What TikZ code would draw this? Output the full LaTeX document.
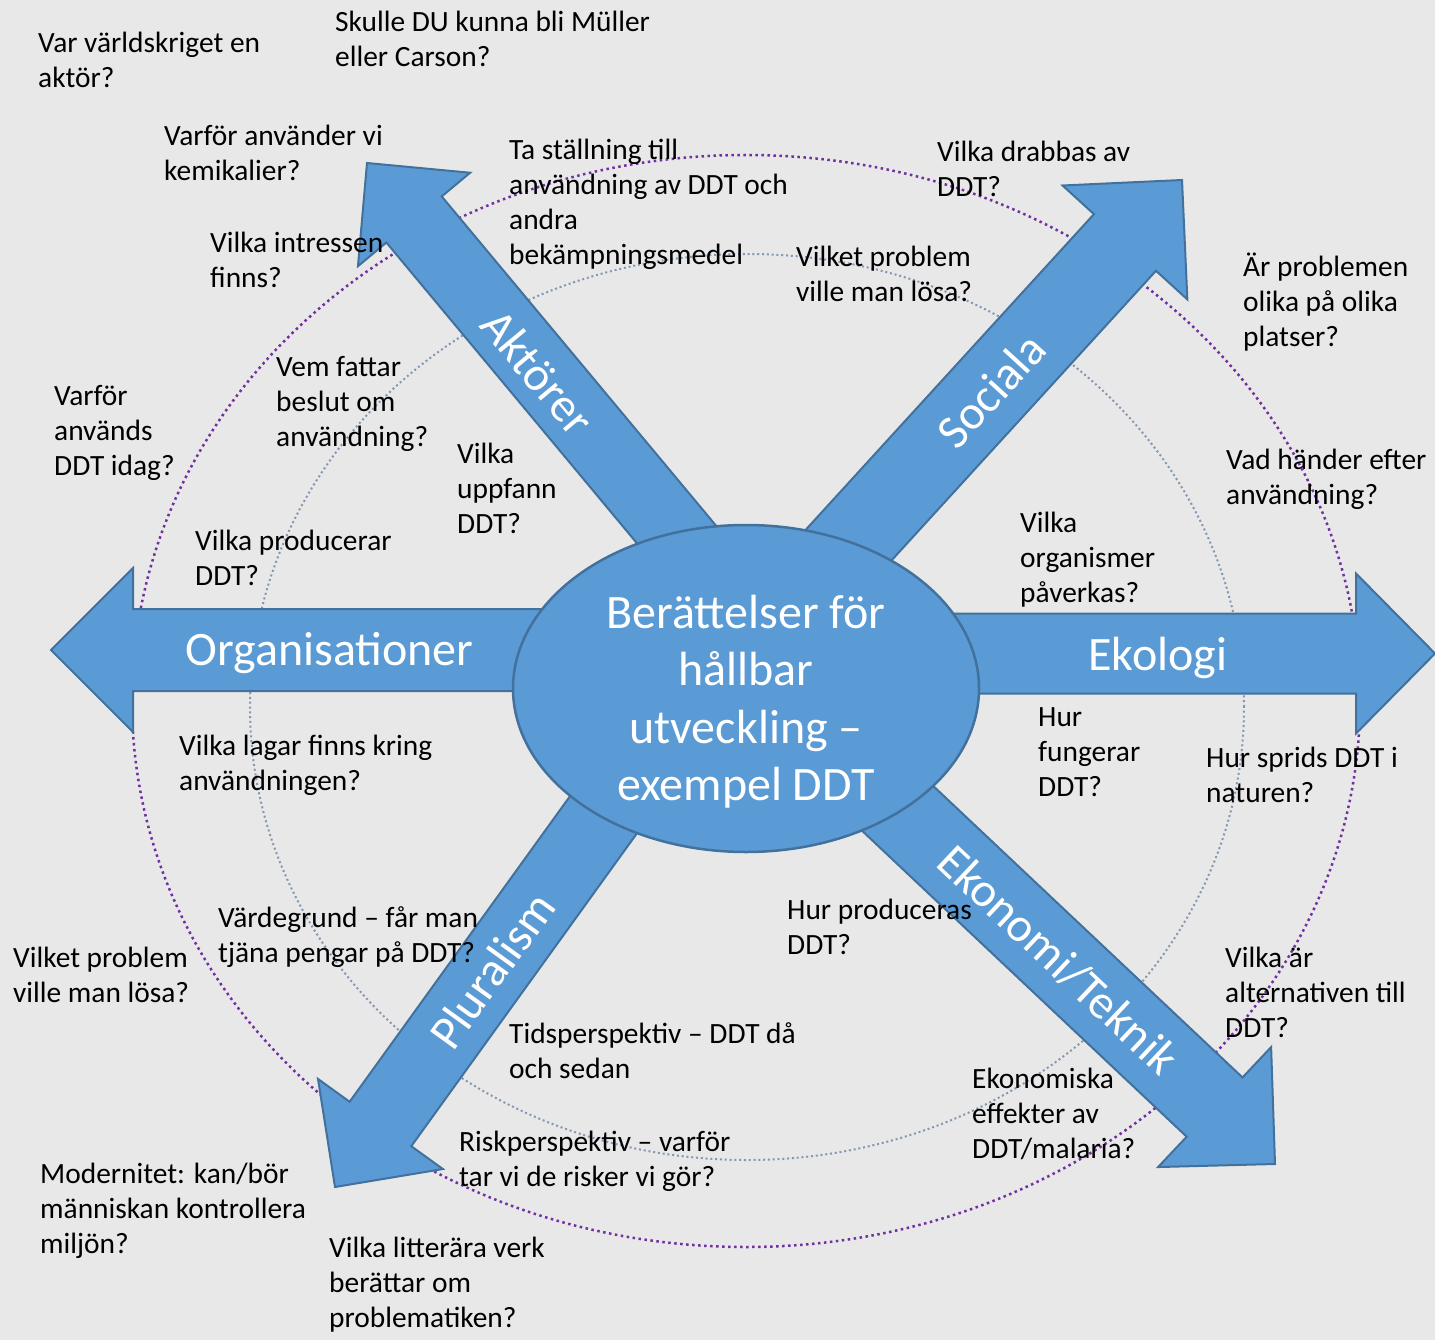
\documentclass[tikz,border=0pt]{standalone}
\usepackage{fontspec}
\setmainfont{Carlito}
\usetikzlibrary{shapes.geometric}
\definecolor{bg}{HTML}{E8E8E8}
\definecolor{abl}{HTML}{5B9BD5}
\definecolor{abd}{HTML}{41719C}
\definecolor{purp}{HTML}{7030A0}
\definecolor{gblue}{HTML}{8497B0}
\newcommand\ddtarrow[6]{%
  \filldraw[arr, shift={(#1,#2)}, rotate=#3]
    (0,0) -- (-#4,#5) -- (-#4,#6) -- (-#4-500,#6) -- (-#4-500,-#6)
    -- (-#4,-#6) -- (-#4,-#5) -- cycle;}
\begin{document}
\begin{tikzpicture}[x=1pt,y=-1pt,
  q/.style={anchor=north west, inner sep=0pt, align=left,
            font=\fontsize{29.4}{35}\selectfont, text=black},
  lab/.style={text=white, inner sep=0pt, font=\fontsize{48}{57.5}\selectfont},
  arr/.style={fill=abl, draw=abd, line width=2pt, line join=miter},
  outerring/.style={purp, line width=2.5pt, dash pattern=on 2.5pt off 3.5pt},
  innerring/.style={gblue, line width=2pt, dash pattern=on 2pt off 2.8pt},
]
\fill[bg] (0,0) rectangle (1435,1340);
\useasboundingbox (0,0) rectangle (1435,1340);

% dotted rings
\draw[outerring] (746,701) ellipse [x radius=614pt, y radius=546pt];
\draw[innerring] (747,707) ellipse [x radius=497pt, y radius=453pt];

% arrows
\ddtarrow{367}{163}{129.8}{73.5}{73}{36}
\ddtarrow{1182}{180}{47.6}{84.6}{84.5}{42}
\ddtarrow{1275}{1164}{-43.3}{83}{82.4}{40.7}
\ddtarrow{335}{1187}{-125.8}{77.7}{77}{38}
\ddtarrow{51}{650}{180}{82}{82}{41}
\ddtarrow{1435}{653.5}{0}{79}{80}{40}

% central ellipse
\node[ellipse, fill=abl, draw=abd, line width=2.5pt, minimum width=466pt,
      minimum height=327pt, inner sep=0pt] (hub) at (746,688.5) {};
\node[lab, anchor=north, align=center] (hubtext) at (746,587.75)
  {\strut Berättelser för\\hållbar\\utveckling –\\exempel DDT};

% arrow labels
\node[lab, anchor=base] (lorg) at (329.5,665) {Organisationer};
\node[lab, anchor=base] (leko) at (1158,670) {Ekologi};
\node[lab, rotate=-50.2] (lakt) at (538,372) {Aktörer};
\node[lab, rotate=47.6] (lsoc) at (991,390) {Sociala};
\node[lab, rotate=-43.3] (lekt) at (1058,960) {Ekonomi/Teknik};
\node[lab, rotate=54.2] (lplu) at (492,970) {Pluralism};

% questions (y = first baseline - 24.5)
\node[q] (t1) at (38,27.5) {\strut Var världskriget en\\aktör?};
\node[q] (t2) at (335,6.5) {\strut Skulle DU kunna bli Müller\\eller Carson?};
\node[q] (t3) at (164,120.5) {\strut Varför använder vi\\kemikalier?};
\node[q] (t4) at (509,134.5) {\strut Ta ställning till\\användning av DDT och\\andra\\bekämpningsmedel};
\node[q] (t5) at (937,136.5) {\strut Vilka drabbas av\\DDT?};
\node[q] (t6) at (210,227.5) {\strut Vilka intressen\\finns?};
\node[q] (t7) at (796,241.5) {\strut Vilket problem\\ville man lösa?};
\node[q] (t8) at (1243,251.5) {\strut Är problemen\\olika på olika\\platser?};
\node[q] (t9) at (276,351.5) {\strut Vem fattar\\beslut om\\användning?};
\node[q] (t10) at (54,380.5) {\strut Varför\\används\\DDT idag?};
\node[q] (t11) at (457,438.5) {\strut Vilka\\uppfann\\DDT?};
\node[q] (t12) at (1226,444.5) {\strut Vad händer efter\\användning?};
\node[q] (t13) at (1020,507.5) {\strut Vilka\\organismer\\påverkas?};
\node[q] (t14) at (195,525.5) {\strut Vilka producerar\\DDT?};
\node[q] (t15) at (1038,701.5) {\strut Hur\\fungerar\\DDT?};
\node[q] (t16) at (179,730.5) {\strut Vilka lagar finns kring\\användningen?};
\node[q] (t17) at (1206,742.5) {\strut Hur sprids DDT i\\naturen?};
\node[q] (t18) at (787,894.5) {\strut Hur produceras\\DDT?};
\node[q] (t19) at (218,902.5) {\strut Värdegrund – får man\\tjäna pengar på DDT?};
\node[q] (t20) at (13,942.5) {\strut Vilket problem\\ville man lösa?};
\node[q] (t21) at (1225,942.5) {\strut Vilka är\\alternativen till\\DDT?};
\node[q] (t22) at (509,1018.5) {\strut Tidsperspektiv – DDT då\\och sedan};
\node[q] (t23) at (972,1063.5) {\strut Ekonomiska\\effekter av\\DDT/malaria?};
\node[q] (t24) at (459,1127) {\strut Riskperspektiv – varför\\tar vi de risker vi gör?};
\node[q] (t25) at (40,1159) {\strut Modernitet: kan/bör\\människan kontrollera\\miljön?};
\node[q] (t26) at (329,1232.5) {\strut Vilka litterära verk\\berättar om\\problematiken?};
\end{tikzpicture}
\end{document}
